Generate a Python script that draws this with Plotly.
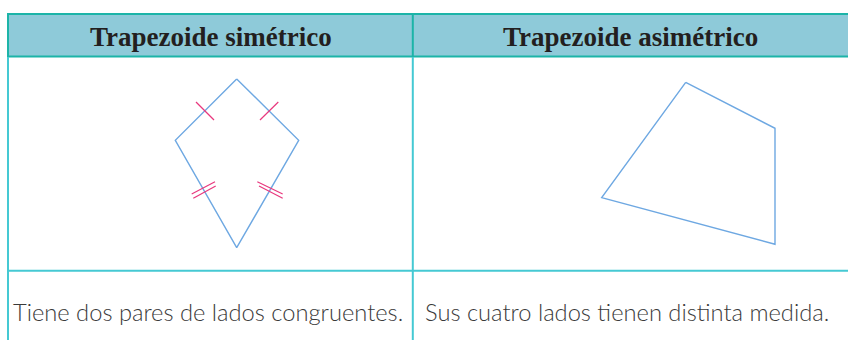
import plotly.graph_objects as go

W, H = 848, 340

headers = ["Trapezoide simétrico", "Trapezoide asimétrico"]
descriptions = ["Tiene dos pares de lados congruentes.", "Sus cuatro lados tienen distinta medida."]

# Kite (symmetric trapezoid) vertices in pixel units
kite_x = [236.7, 298.7, 236.7, 175.3, 236.7]
kite_y = [79.0, 140.3, 247.7, 140.3, 79.0]

# Asymmetric quadrilateral vertices
quad_x = [685.7, 775.0, 775.0, 601.7, 685.7]
quad_y = [82.3, 128.3, 244.3, 197.7, 82.3]

# Congruence tick marks (segments: x0, y0, x1, y1)
ticks = [
    (196.0, 102.0, 214.0, 120.0),
    (278.3, 102.0, 260.0, 120.0),
    (191.7, 194.0, 215.0, 181.7),
    (193.3, 198.3, 215.7, 186.0),
    (257.3, 181.7, 282.7, 194.0),
    (259.0, 186.0, 282.7, 198.3),
]

col_centers = [211, 630]
header_y = 37
desc_x = [11, 423]
desc_y = 312

fig = go.Figure()

fig.add_trace(go.Scatter(x=kite_x, y=kite_y, mode="lines",
                         line=dict(color="#6ea8e2", width=1.4), hoverinfo="skip"))
fig.add_trace(go.Scatter(x=quad_x, y=quad_y, mode="lines",
                         line=dict(color="#6ea8e2", width=1.4), hoverinfo="skip"))
tx, ty = [], []
for x0, y0, x1, y1 in ticks:
    tx += [x0, x1, None]
    ty += [y0, y1, None]
fig.add_trace(go.Scatter(x=tx, y=ty, mode="lines",
                         line=dict(color="#e8387e", width=1.2), hoverinfo="skip"))

shapes = []
shapes.append(dict(type="rect", x0=8, x1=W + 5, y0=14, y1=56.5, fillcolor="#8ecad9",
                   line=dict(width=0), layer="below"))
teal = "#1cb4a8"
cyan = "#45c9d3"
shapes += [
    dict(type="line", x0=8, x1=W + 5, y0=14, y1=14, line=dict(color=teal, width=2)),
    dict(type="line", x0=8, x1=W + 5, y0=56.5, y1=56.5, line=dict(color=teal, width=2)),
    dict(type="line", x0=8, x1=8, y0=13, y1=H + 5, line=dict(color=cyan, width=2)),
    dict(type="line", x0=8, x1=8, y0=13, y1=57, line=dict(color=teal, width=2)),
    dict(type="line", x0=412.8, x1=412.8, y0=57, y1=H + 5, line=dict(color=cyan, width=2)),
    dict(type="line", x0=412.8, x1=412.8, y0=14, y1=56, line=dict(color=teal, width=2)),
    dict(type="line", x0=8, x1=W + 5, y0=270.7, y1=270.7, line=dict(color=cyan, width=2)),
]

annotations = []
for cx, t in zip(col_centers, headers):
    annotations.append(dict(x=cx, y=header_y, text=f"<b>{t}</b>", showarrow=False,
                            xanchor="center", yanchor="middle",
                            font=dict(family="Liberation Serif", size=27, color="#231f20")))
for dx, t in zip(desc_x, descriptions):
    annotations.append(dict(x=dx, y=desc_y, text=t, showarrow=False,
                            xanchor="left", yanchor="middle",
                            font=dict(family="Lato", size=23.7, color="#3a3a3a", weight=300)))

fig.update_layout(
    width=W, height=H, margin=dict(l=0, r=0, t=0, b=0),
    paper_bgcolor="white", plot_bgcolor="white", showlegend=False,
    xaxis=dict(range=[0, W], visible=False, fixedrange=True),
    yaxis=dict(range=[H, 0], visible=False, fixedrange=True),
    shapes=shapes, annotations=annotations,
)

fig.write_html("out.html", config={"displayModeBar": False},
               post_script="document.body.style.margin='0';document.body.style.overflow='hidden';")
